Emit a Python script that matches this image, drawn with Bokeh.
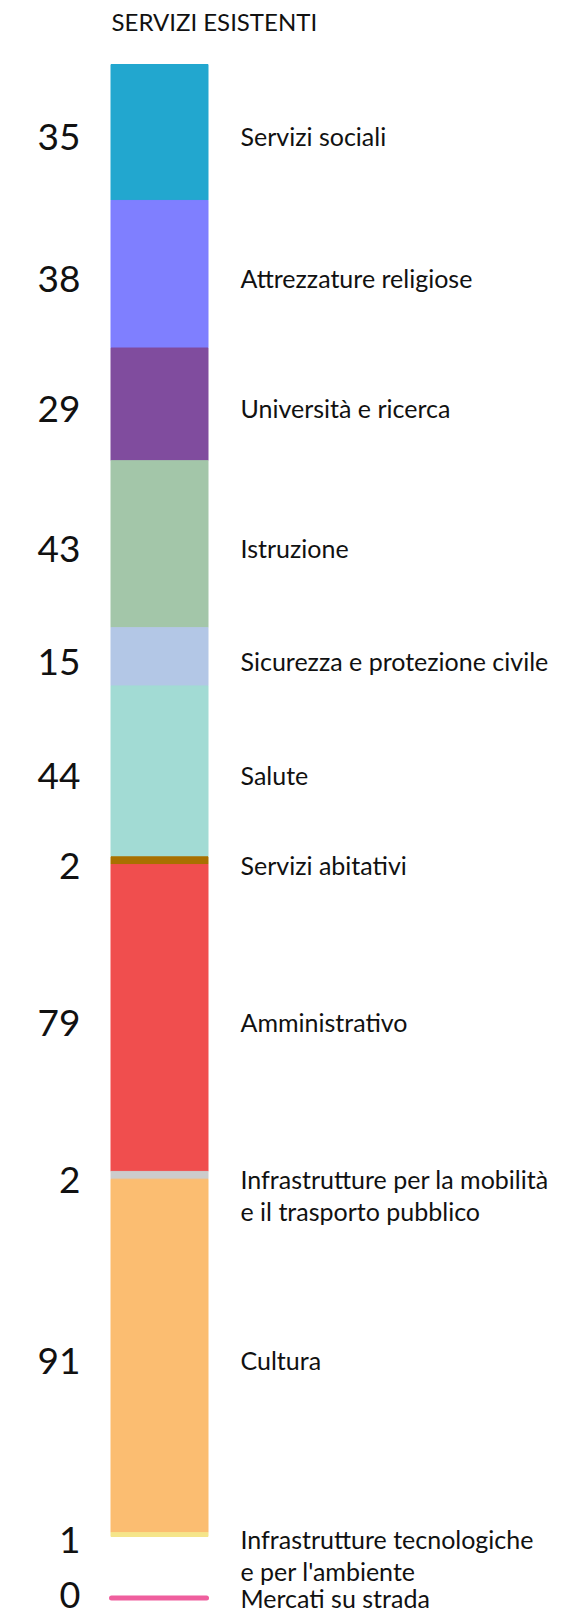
from bokeh.plotting import figure
from bokeh.models import Range1d, ColumnDataSource
from bokeh.core.properties import value
from bokeh.embed import file_html
from bokeh.resources import INLINE

title = "SERVIZI ESISTENTI"
categories = ["Servizi sociali", "Attrezzature religiose", "Università e ricerca",
              "Istruzione", "Sicurezza e protezione civile", "Salute",
              "Servizi abitativi", "Amministrativo",
              "Infrastrutture per la mobilità\ne il trasporto pubblico",
              "Cultura", "Infrastrutture tecnologiche\ne per l'ambiente"]
counts = [35, 38, 29, 43, 15, 44, 2, 79, 2, 91, 1]
colors = ["#22a7cf", "#7f7fff", "#804c9e", "#a3c6a9", "#b3c7e6", "#a2dbd4",
          "#a87000", "#f04e4e", "#cccccc", "#fbbd71", "#f5e58a"]
zero_category = "Mercati su strada"
zero_count = 0
zero_color = "#ef5f9e"

W, H = 569, 1618
bar_top_px, bar_bot_px = 64.0, 1536.0
total = sum(counts)
ppu = (bar_bot_px - bar_top_px) / total
y_end = -bar_top_px / ppu
y_start = total + (H - bar_bot_px) / ppu

p = figure(width=W, height=H, output_backend="svg", toolbar_location=None,
           x_range=Range1d(0, W), y_range=Range1d(y_start, y_end),
           min_border=0, outline_line_color=None)
p.axis.visible = False
p.grid.visible = False
p.background_fill_color = "white"
p.border_fill_color = "white"

bottoms, tops = [], []
acc = 0
for c in counts:
    bottoms.append(acc)
    acc += c
    tops.append(acc)
centers = [(b + t) / 2 for b, t in zip(bottoms, tops)]

src = ColumnDataSource(dict(bottom=bottoms, top=tops, color=colors))
p.vbar(x=159, width=97, bottom="bottom", top="top", color="color", source=src)

FONT = value("Lato")
TXT = "#111111"

# numbers
p.text(x=[80] * len(counts), y=centers, text=[str(c) for c in counts],
       text_font=FONT, text_font_size="37px", text_align="right",
       text_baseline="middle", text_color=TXT, y_offset=5)

# labels (multi-line split)
lx, ly, lt = [], [], []
for cat, cy in zip(categories, centers):
    for i, line in enumerate(cat.split("\n")):
        lx.append(240)
        ly.append(cy + i * 32 / ppu)
        lt.append(line)
p.text(x=lx, y=ly, text=lt, text_font=FONT, text_font_size="25px",
       text_align="left", text_baseline="middle", text_color=TXT, y_offset=4)

# zero-value line
zy = total + (1597.5 - bar_bot_px) / ppu
p.line(x=[111, 206], y=[zy, zy], line_color=zero_color, line_width=5, line_cap="round")
p.text(x=[80], y=[zy], text=[str(zero_count)], text_font=FONT, text_font_size="36px",
       text_align="right", text_baseline="middle", text_color=TXT, y_offset=-3)
p.text(x=[240], y=[zy], text=[zero_category], text_font=FONT, text_font_size="25px",
       text_align="left", text_baseline="middle", text_color=TXT, y_offset=0)

# title
p.text(x=[111], y=[y_end + 21 / ppu], text=[title], text_font=FONT, text_font_size="24px",
       text_align="left", text_baseline="middle", text_color=TXT)

open("out.html", "w").write(file_html(p, INLINE))
